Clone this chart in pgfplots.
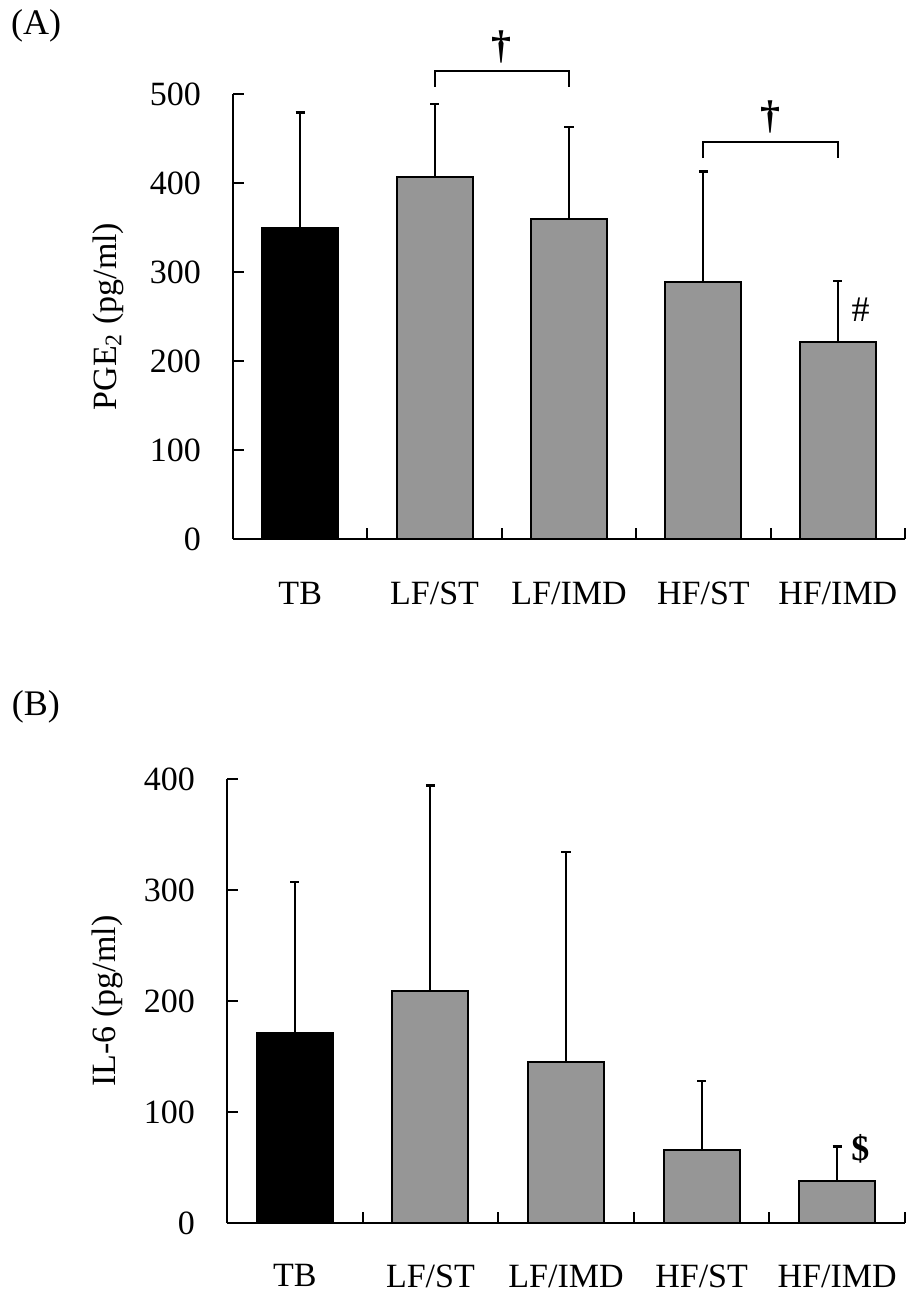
\documentclass[border=0pt]{standalone}
\usepackage{fontspec}
\setmainfont{Liberation Serif}
\usepackage{pgfplots}
\pgfplotsset{compat=1.18}
\definecolor{barg}{RGB}{150,150,150}
\pgfplotsset{
  panel/.style={
    scale only axis,
    anchor=south west,
    axis lines*=left,
    axis line style={line width=1pt, black},
    clip=false,
    xmin=-0.5, xmax=4.5, ymin=0,
    xtick={0.5,1.5,2.5,3.5,4.5},
    xticklabels={},
    extra x ticks={0,1,2,3,4},
    extra x tick labels={TB,LF/ST,LF/IMD,HF/ST,HF/IMD},
    extra x tick style={major tick length=0pt},
    tick align=inside,
    major tick length=5.5pt,
    tick style={line width=1pt, black},
    /pgf/number format/assume math mode=true,
    tick label style={font=\fontsize{17}{20}\selectfont},
    yticklabel style={xshift=-12.5pt},
    label style={font=\fontsize{17}{20}\selectfont},
  },
  mybar/.style={ybar, bar width=38pt, bar shift=0pt, draw=black, line width=1pt,
    error bars/y dir=plus, error bars/y explicit,
    error bars/error mark=-,
    error bars/error bar style={line width=1pt, black},
    error bars/error mark options={black, rotate=90, line width=1.2pt, mark size=2.3pt}},
}
\begin{document}
\begin{tikzpicture}
\path[use as bounding box] (0,0) rectangle (454pt,-650pt);
% Panel A
\begin{axis}[panel,
  at={(116.5pt,-269.5pt)},
  width=336pt, height=222.5pt,
  ymax=500, ytick={0,100,200,300,400,500},
  xticklabel style={yshift=-18pt},
  ylabel={PGE\textsubscript{2} (pg/ml)},
  ylabel style={at={(axis description cs:-0.186,0.5)}, anchor=center},
]
\addplot[mybar, fill=black] coordinates {(0,350) +- (0,129)};
\addplot[mybar, fill=barg] coordinates {
  (1,407) +- (0,82)
  (2,360) +- (0,103)
  (3,289) +- (0,124)
  (4,221) +- (0,69)
};
\draw[line width=1pt] (axis cs:1,508) -- (axis cs:1,526) -- (axis cs:2,526) -- (axis cs:2,508);
\draw[line width=1pt] (axis cs:3,428) -- (axis cs:3,446) -- (axis cs:4,446) -- (axis cs:4,428);
\node[font=\fontsize{20}{22}\selectfont\bfseries] at (axis cs:1.5,553) {†};
\node[font=\fontsize{20}{22}\selectfont\bfseries] at (axis cs:3.5,474) {†};
\node[font=\fontsize{18}{20}\selectfont] at (axis cs:4.17,258) {\#};
\node[font=\fontsize{18}{20}\selectfont] at (rel axis cs:-0.293,1.153) {(A)};
\end{axis}
% Panel B
\begin{axis}[panel,
  at={(113.5pt,-611.5pt)},
  width=339pt, height=222pt,
  ymax=400, ytick={0,100,200,300,400},
  xticklabel style={yshift=-17.3pt},
  ylabel={IL-6 (pg/ml)},
  ylabel style={at={(axis description cs:-0.176,0.5)}, anchor=center},
]
\addplot[mybar, fill=black] coordinates {(0,171) +- (0,136)};
\addplot[mybar, fill=barg] coordinates {
  (1,209) +- (0,185)
  (2,145) +- (0,189)
  (3,66) +- (0,62)
  (4,38) +- (0,31)
};
\node[font=\fontsize{18}{20}\selectfont\bfseries] at (axis cs:4.17,67) {\$};
\node[font=\fontsize{18}{20}\selectfont] at (rel axis cs:-0.282,1.162) {(B)};
\end{axis}
\end{tikzpicture}
\end{document}
